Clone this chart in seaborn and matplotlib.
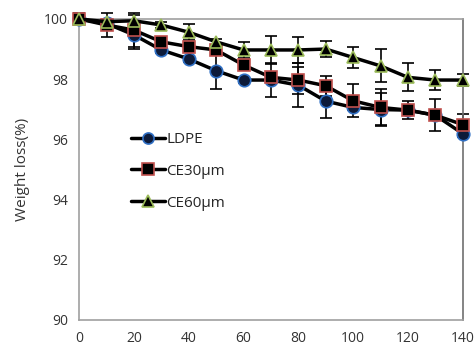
import numpy as np
import pandas as pd
import matplotlib
matplotlib.use("Agg")
import matplotlib.pyplot as plt
import seaborn as sns

# Data
days = [0, 10, 20, 30, 40, 50, 60, 70, 80, 90, 100, 110, 120, 130, 140]
ldpe = [100, 99.85, 99.47, 98.97, 98.67, 98.28, 97.97, 97.97, 97.8, 97.27, 97.06, 96.99, 96.97, 96.8, 96.19]
ce30 = [100, 99.8, 99.63, 99.24, 99.08, 98.97, 98.47, 98.06, 97.97, 97.78, 97.28, 97.06, 96.97, 96.8, 96.49]
ce60 = [100, 99.91, 99.94, 99.8, 99.56, 99.24, 98.97, 98.97, 98.97, 99.0, 98.72, 98.44, 98.06, 97.97, 97.97]
ldpe_err = [0.1, 0.1, 0.47, 0.1, 0.1, 0.62, 0.1, 0.56, 0.72, 0.56, 0.1, 0.55, 0.1, 0.1, 0.1]
ce30_err = [0.1, 0.4, 0.57, 0.1, 0.1, 0.1, 0.1, 0.1, 0.45, 0.33, 0.55, 0.6, 0.31, 0.53, 0.34]
ce60_err = [0.2, 0.1, 0.2, 0.1, 0.26, 0.1, 0.27, 0.47, 0.44, 0.27, 0.34, 0.55, 0.46, 0.34, 0.2]
labels = ["LDPE", "CE30\u03bcm", "CE60\u03bcm"]

sns.set_style("white")
plt.rcParams['font.family'] = ['Open Sans', 'DejaVu Sans']

fig = plt.figure(figsize=(4.77, 3.45), dpi=100)
ax = fig.add_axes([0.166, 0.073, 0.804, 0.872])

series = [
    (ldpe, ldpe_err, "o", "#0d1b3a", "#2f6fc4"),
    (ce30, ce30_err, "s", "black", "#c0504d"),
    (ce60, ce60_err, "^", "black", "#9bbb59"),
]

handles = []
for (vals, errs, mk, fc, ec), lab in zip(series, labels):
    df = pd.DataFrame({"day": days, "w": vals})
    eb = ax.errorbar(days, vals, yerr=errs, fmt="none", ecolor="black",
                     elinewidth=1.2, capsize=4, capthick=1.2, zorder=2)
    for art in eb.lines[1] + eb.lines[2]:
        art.set_clip_on(False)
    sns.lineplot(data=df, x="day", y="w", ax=ax, color="black", linewidth=2.5,
                 marker=mk, markersize=9, markerfacecolor=fc,
                 markeredgecolor=ec, markeredgewidth=1.2, zorder=3,
                 clip_on=False)
    handles.append(plt.Line2D([], [], color="black", linewidth=2.5, marker=mk,
                              markersize=8, markerfacecolor=fc,
                              markeredgecolor=ec, markeredgewidth=1.2))

ax.set_xlim(0, 140)
ax.set_ylim(90, 100)
ax.set_xticks(range(0, 141, 20))
ax.set_yticks(range(90, 101, 2))
ax.set_xlabel("")
ax.set_ylabel("Weight loss(%)", fontsize=11, color="#333333", labelpad=10)
ax.tick_params(direction="in", length=3, colors="#999999", labelcolor="#333333",
               labelsize=10, pad=8)
for s in ax.spines.values():
    s.set_color("#a0a0a0")
    s.set_linewidth(1.2)
ax.spines["right"].set_color("#707070")

ax.legend(handles, labels, loc="upper left", bbox_to_anchor=(0.1, 0.67),
          frameon=False, fontsize=11, handlelength=2.2, labelspacing=1.1,
          handletextpad=0.1)

fig.savefig("out.png", dpi=100)
